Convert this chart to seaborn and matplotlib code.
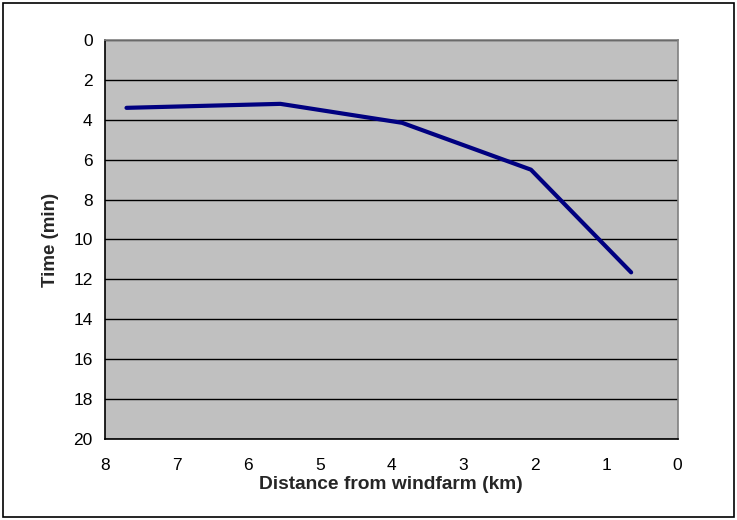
import matplotlib
matplotlib.use("Agg")
import pandas as pd
import seaborn as sns
import matplotlib.pyplot as plt

# values
distance_km = [7.7, 5.55, 3.85, 2.05, 0.65]
time_min = [3.4, 3.2, 4.15, 6.5, 11.65]

x_ticks = [8, 7, 6, 5, 4, 3, 2, 1, 0]
y_ticks = [0, 2, 4, 6, 8, 10, 12, 14, 16, 18, 20]

df = pd.DataFrame({"distance": distance_km, "time": time_min})

sns.set_style("white")
plt.rcParams["font.family"] = ["Liberation Sans", "DejaVu Sans"]

fig = plt.figure(figsize=(7.37, 5.2), dpi=100)
ax = fig.add_axes([0.1425, 0.156, 0.777, 0.767])
ax.set_facecolor("#C0C0C0")

sns.lineplot(data=df, x="distance", y="time", sort=False, color="#000080",
             linewidth=3.0, ax=ax, zorder=3)

ax.set_xlim(8, 0)
ax.set_ylim(20, 0)
ax.set_xticks(x_ticks)
ax.set_yticks(y_ticks)
ax.yaxis.grid(True, color="black", linewidth=1.0)
ax.xaxis.grid(False)
ax.set_axisbelow(True)

ax.tick_params(axis="x", direction="in", length=4, width=1, colors="black",
               labelsize=12.5, pad=14)
ax.tick_params(axis="y", direction="out", length=4, width=1, colors="black",
               labelsize=12.5, pad=5)

for side in ["left", "bottom"]:
    ax.spines[side].set_color("black")
    ax.spines[side].set_linewidth(1.2)
for side in ["top", "right"]:
    ax.spines[side].set_visible(True)
    ax.spines[side].set_color("#808080")
    ax.spines[side].set_linewidth(1.2)

ax.set_xlabel("Distance from windfarm (km)", fontsize=13.8, fontweight="bold", labelpad=2)
ax.set_ylabel("Time (min)", fontsize=13.5, fontweight="bold", labelpad=10)

# outer frame around the whole figure
fig.patches.append(plt.Rectangle((0.004, 0.005), 0.992, 0.99, transform=fig.transFigure,
                                 fill=False, edgecolor="black", linewidth=1.2))

fig.savefig("out.png", dpi=100)
